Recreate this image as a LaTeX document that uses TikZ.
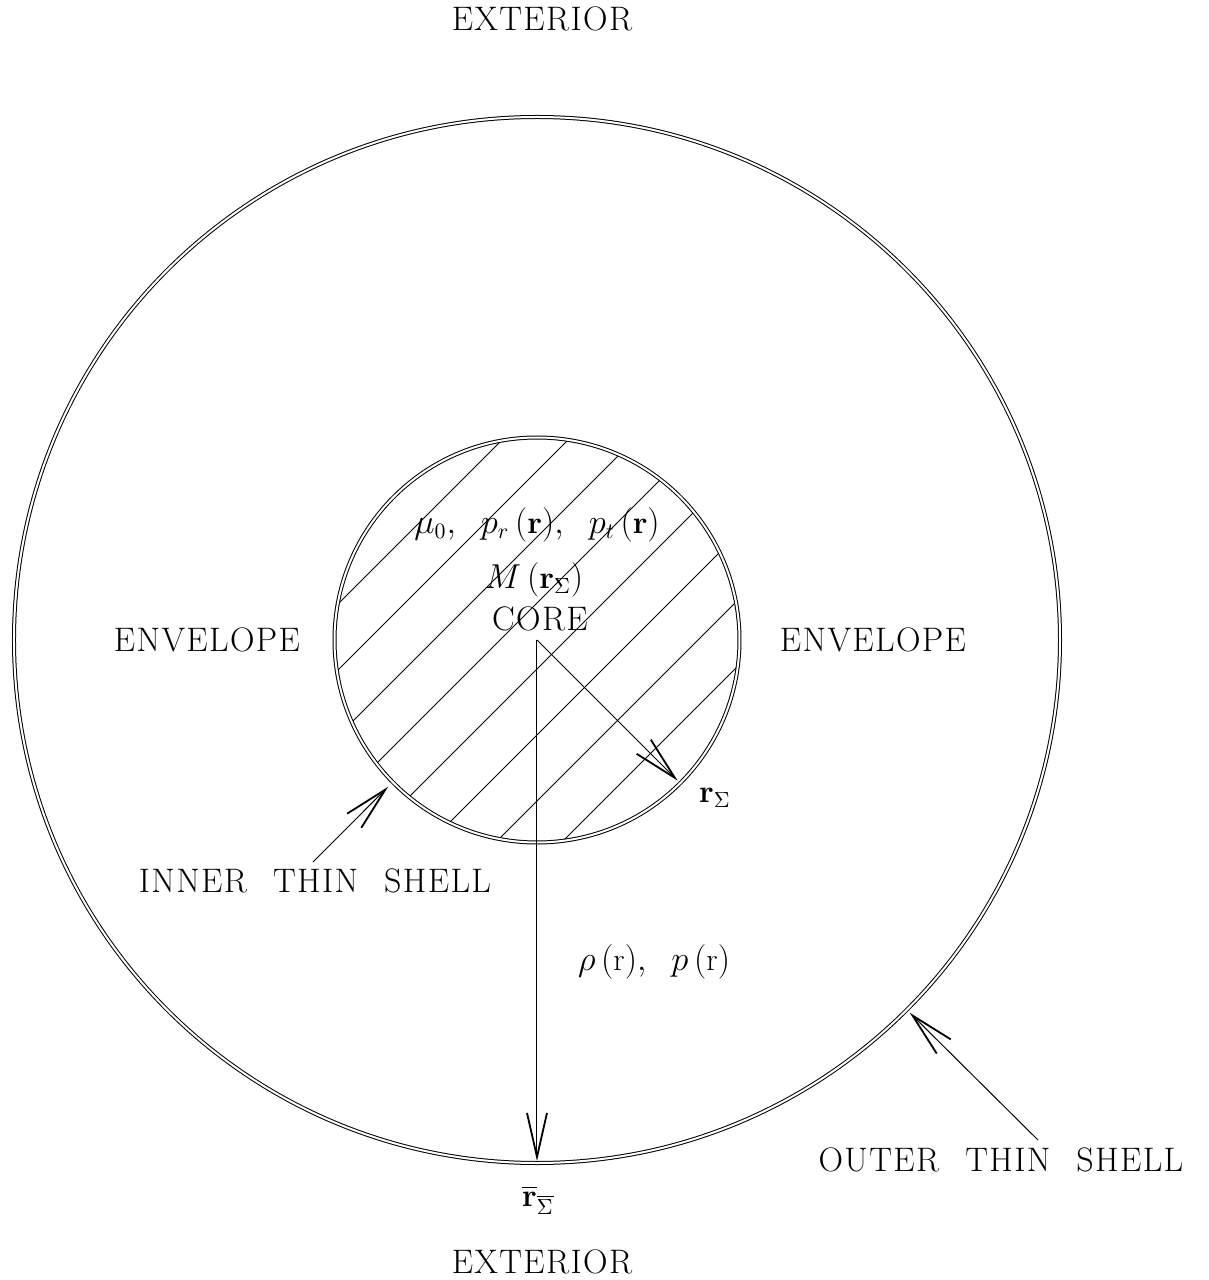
\documentclass[tikz,border=0pt]{standalone}
\usepackage{amsmath, amssymb}
\usepackage{fontspec}
\setmainfont{Latin Modern Roman}
\usepackage{tikz}
\usetikzlibrary{arrows.meta}

\newcommand{\lblfont}{\fontsize{17}{20}\selectfont\addfontfeatures{LetterSpace=4}\spaceskip=13pt plus 1pt minus 1pt\relax}

\begin{document}
\begin{tikzpicture}[x=0.5pt, y=0.5pt, line width=0.5pt,
    >={Straight Barb[length=22pt, width=10pt, line width=0.9pt]},
    shell/.style={double, double distance=1pt},
    lbl/.style={font=\lblfont},
    mlbl/.style={font=\fontsize{16}{19}\selectfont}]

    \useasboundingbox (-537,-640) rectangle (672,640);

    % Points
    \coordinate (c) at (0,0);
    \coordinate (rin) at (-45:199);
    \coordinate (rout) at (0,-521);
    \coordinate (intip) at (224.6:209);
    \coordinate (intail) at (-224,-222);
    \coordinate (outtip) at (-45:527);
    \coordinate (outtail) at (501,-500);

    % Hatching of the core
    \begin{scope}
        \clip (c) circle (201);
        \foreach \d in {-235,-169,-103,-37,29,95,161,227}
            \draw (\d/2-300, -\d/2-300) -- ++(600,600);
    \end{scope}

    % Thin shells
    \draw[shell] (c) circle (202.5);
    \draw[shell] (c) circle (523);

    % Radii
    \draw[->] (c) -- (rin);
    \draw[->] (c) -- (rout);

    % Shell pointers
    \draw[->] (intail) -- (intip);
    \draw[->] (outtail) -- (outtip);

    % Region labels
    \node[lbl] (exttop) at (5,621) {EXTERIOR};
    \node[lbl] (extbot) at (5,-622) {EXTERIOR};
    \node[lbl] (envl) at (-330,0) {ENVELOPE};
    \node[lbl] (envr) at (336,0) {ENVELOPE};
    \node[lbl] (core) at (3,21) {CORE};
    \node[lbl] (innerlbl) at (-222,-241) {INNER THIN SHELL};
    \node[lbl] (outerlbl) at (464,-520) {OUTER THIN SHELL};

    % Quantities
    \node[mlbl] (coreq) at (0,115) {$\mu_0,\;\ p_r\,(\mathbf{r}),\;\ p_t\,(\mathbf{r})$};
    \node[mlbl] (mass) at (-3,60) {$M\,(\mathbf{r}_\Sigma)$};
    \node[mlbl] (envq) at (117,-322) {$\rho\,(\mathrm{r}),\;\ p\,(\mathrm{r})$};
    \node[mlbl] (rinlbl) at (178,-158) {$\mathbf{r}_\Sigma$};
    \node[mlbl] (routlbl) at (1,-560) {$\overline{\mathbf{r}}_{\overline{\Sigma}}$};

\end{tikzpicture}
\end{document}
